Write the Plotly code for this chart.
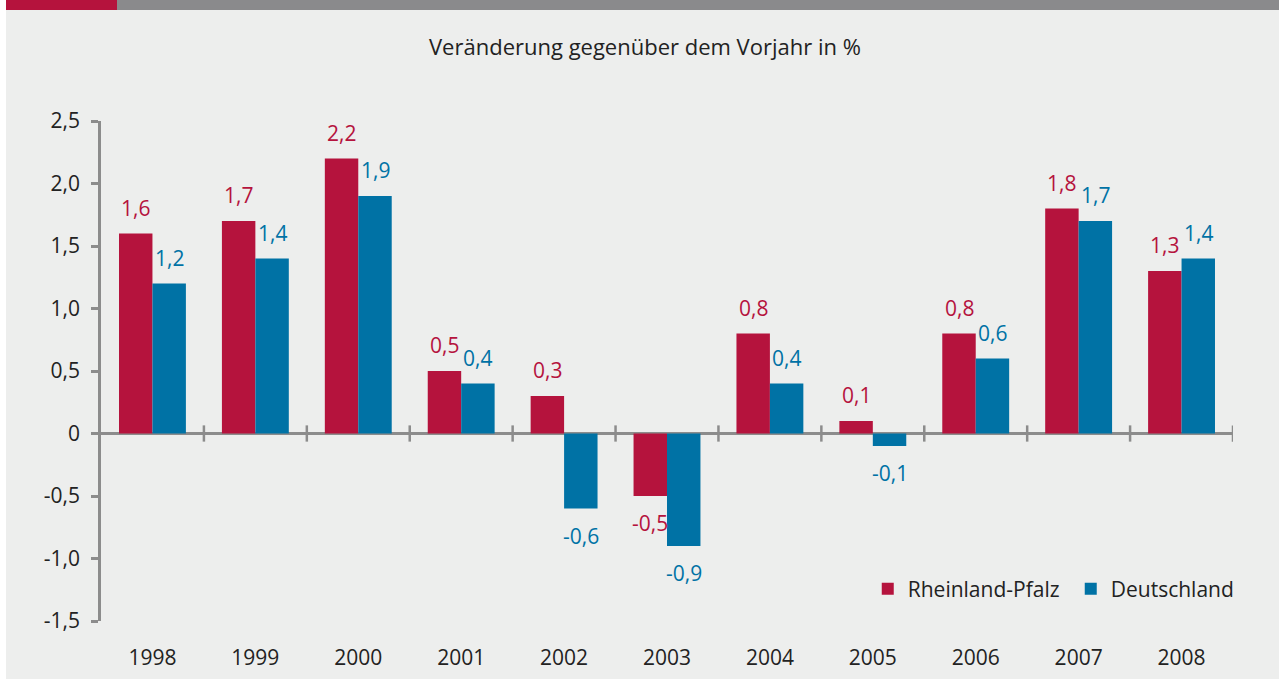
import plotly.graph_objects as go

years = ["1998", "1999", "2000", "2001", "2002", "2003", "2004", "2005", "2006", "2007", "2008"]
rheinland_pfalz = [1.6, 1.7, 2.2, 0.5, 0.3, -0.5, 0.8, 0.1, 0.8, 1.8, 1.3]
deutschland = [1.2, 1.4, 1.9, 0.4, -0.6, -0.9, 0.4, -0.1, 0.6, 1.7, 1.4]
y_ticks = [2.5, 2.0, 1.5, 1.0, 0.5, 0, -0.5, -1.0, -1.5]
y_tick_text = ["2,5", "2,0", "1,5", "1,0", "0,5", "0", "-0,5", "-1,0", "-1,5"]

RED = "#B5133D"
BLUE = "#0072A5"
BG = "#EDEEED"
AXIS = "#8C8C8C"
TXT = "#222222"
FONT = "Open Sans"
FS = 21

def fmt(v):
    return ("%.1f" % v).replace(".", ",")

x_idx = list(range(len(years)))
bargap = 0.35
bw = (1 - bargap) / 2

fig = go.Figure()
fig.add_trace(go.Bar(x=x_idx, y=rheinland_pfalz, name="Rheinland-Pfalz", marker_color=RED,
                     marker_line_width=0))
fig.add_trace(go.Bar(x=x_idx, y=deutschland, name="Deutschland", marker_color=BLUE,
                     marker_line_width=0))

annotations = []
for series, color, off in [(rheinland_pfalz, RED, -bw / 2), (deutschland, BLUE, bw / 2)]:
    for i, v in enumerate(series):
        annotations.append(dict(
            x=i + off, y=v, text=fmt(v), showarrow=False, xref="x", yref="y",
            yanchor="bottom" if v >= 0 else "top", yshift=10 if v >= 0 else -11,
            font=dict(family=FONT, size=FS, color=color)))

annotations.append(dict(
    x=(645 - 101) / 1132, y=(621 - 46) / 500, xref="paper", yref="paper",
    text="Veränderung gegenüber dem Vorjahr in %", showarrow=False,
    xanchor="center", yanchor="middle", font=dict(family=FONT, size=22, color=TXT)))

shapes = [
    # white strip on the left edge
    dict(type="rect", xref="paper", yref="paper", x0=(0 - 101) / 1132, x1=(6 - 101) / 1132,
         y0=(621 - 679) / 500, y1=(621 - 0) / 500, fillcolor="white", line_width=0, layer="below"),
    # top bars
    dict(type="rect", xref="paper", yref="paper", x0=(6 - 101) / 1132, x1=(117 - 101) / 1132,
         y0=(621 - 10) / 500, y1=(621 - 0) / 500, fillcolor="#B5133D", line_width=0, layer="below"),
    dict(type="rect", xref="paper", yref="paper", x0=(117 - 101) / 1132, x1=(1279 - 101) / 1132,
         y0=(621 - 10) / 500, y1=(621 - 0) / 500, fillcolor="#8A8A8C", line_width=0, layer="below"),
]
# category boundary ticks crossing the zero line
for i in range(len(years)):
    shapes.append(dict(type="line", xref="x", yref="y", x0=i + 0.5, x1=i + 0.5, y0=-0.065, y1=0.065,
                       line=dict(color=AXIS, width=2.5), layer="above"))

fig.update_layout(
    width=1279, height=679,
    margin=dict(l=101, r=46, t=121, b=58, autoexpand=False),
    paper_bgcolor=BG, plot_bgcolor=BG,
    barmode="group", bargap=bargap, bargroupgap=0,
    font=dict(family=FONT, size=FS, color=TXT),
    showlegend=True,
    legend=dict(orientation="h", x=1.036, xanchor="right", y=(621 - 589) / 500, yanchor="middle",
                bgcolor="rgba(0,0,0,0)", font=dict(family=FONT, size=FS, color=TXT),
                itemwidth=30, traceorder="normal", entrywidth=158, entrywidthmode="pixels"),
    annotations=annotations,
    shapes=shapes,
)
fig.update_xaxes(range=[-0.5, 10.5], tickmode="array", tickvals=x_idx, ticktext=years,
                 showgrid=False, showline=False, zeroline=False, ticks="", automargin=False,
                 ticklabelstandoff=22, tickfont=dict(family=FONT, size=FS, color=TXT))
fig.update_yaxes(range=[-1.5, 2.5], tickmode="array", tickvals=y_ticks, ticktext=y_tick_text,
                 showgrid=False, showline=True, linecolor=AXIS, linewidth=2.5, automargin=False,
                 ticks="outside", ticklen=7, tickwidth=2.5, tickcolor=AXIS,
                 zeroline=True, zerolinecolor=AXIS, zerolinewidth=3,
                 tickfont=dict(family=FONT, size=FS, color=TXT), ticklabelstandoff=7)

fig.write_html(
    "out.html",
    config={"displayModeBar": False},
    post_script="document.body.style.margin='0';document.body.style.overflow='hidden';"
                "document.documentElement.style.overflow='hidden';"
                "document.body.style.background='" + BG + "';"
                "document.documentElement.style.background='" + BG + "';",
)
